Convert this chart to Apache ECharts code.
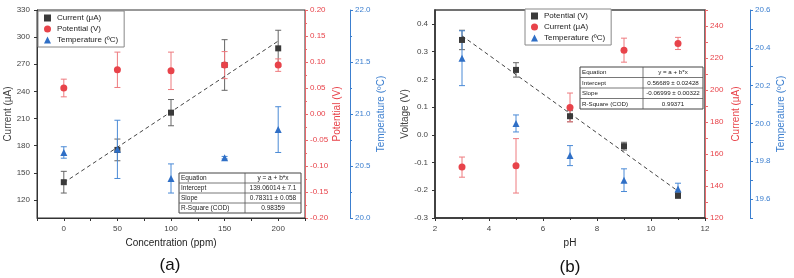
<!DOCTYPE html>
<html>
<head>
<meta charset="utf-8">
<script src="https://cdn.jsdelivr.net/npm/echarts@6/dist/echarts.min.js"></script>
<style>
  html, body { margin: 0; padding: 0; background: #fff; }
  #chart { width: 794px; height: 278px; }
</style>
</head>
<body>
<div id="chart"></div>
<script>
// ---- panel (a): response vs concentration ----
var concPpm = [0, 50, 100, 150, 200]
var currentA = [139.6, 175.3, 216.5, 269.2, 287.6]
var currentAErr = [12, 12, 14.5, 28, 20]
var potentialA = [0.050, 0.085, 0.083, 0.094, 0.094]
var potentialAErr = [0.017, 0.034, 0.036, 0.026, 0.012]
var tempA = [20.63, 20.66, 20.38, 20.58, 20.85]
var tempAErr = [0.055, 0.28, 0.14, 0.012, 0.22]
var fitInterceptA = 139.06014
var fitSlopeA = 0.78311
var currentTicksA = [120, 150, 180, 210, 240, 270, 300, 330]
var concTicks = [0, 50, 100, 150, 200]
var tableA = [
  ['Equation', 'y = a + b*x'],
  ['Intercept', '139.06014 ± 7.1'],
  ['Slope', '0.78311 ± 0.058'],
  ['R-Square (COD)', '0.98359']
]

// ---- panel (b): response vs pH ----
var phValues = [3, 5, 7, 9, 11]
var potentialB = [0.342, 0.234, 0.067, -0.041, -0.219]
var potentialBErr = [0.035, 0.026, 0.02, 0.014, 0.01]
var currentB = [151.8, 152.6, 189.1, 224.9, 229.1]
var currentBErr = [6.3, 17, 9, 7.5, 3.8]
var tempB = [20.345, 20.0, 19.83, 19.70, 19.654]
var tempBErr = [0.145, 0.045, 0.053, 0.06, 0.03]
var fitInterceptB = 0.56689
var fitSlopeB = -0.06999
var voltTicksB = [-0.3, -0.2, -0.1, 0.0, 0.1, 0.2, 0.3, 0.4]
var currentTicksB = [120, 140, 160, 180, 200, 220, 240]
var tempTicksB = [19.6, 19.8, 20.0, 20.2, 20.4, 20.6]
var tableB = [
  ['Equation', 'y = a + b*x'],
  ['Intercept', '0.56689 ± 0.02428'],
  ['Slope', '-0.06999 ± 0.00322'],
  ['R-Square (COD)', '0.99371']
]

var legendText = {
  aCur: 'Current (μA)', aPot: 'Potential (V)', aTemp: 'Temperature (ºC)',
  bPot: 'Potential (V)', bCur: 'Current (μA)', bTemp: 'Temperature (ºC)'
}

var DARK = '#333333'
var RED = '#e8434a'
var RED_AX = '#e8686c'
var BLUE = '#2f6fc6'
var BLUE_AX = '#3c7fcf'
var FONT = '"Liberation Sans", Arial, sans-serif'

function pts (xs, ys) {
  return xs.map(function (x, i) { return [x, ys[i]] })
}
function bars (xs, ys, errs) {
  return xs.map(function (x, i) { return [x, ys[i] - errs[i], ys[i] + errs[i]] })
}
function fitLine (xs, a, b) {
  var x0 = xs[0], x1 = xs[xs.length - 1]
  return [[x0, a + b * x0], [x1, a + b * x1]]
}

function errorBar (params, api) {
  var x = api.value(0)
  var lo = api.coord([x, api.value(1)])
  var hi = api.coord([x, api.value(2)])
  var st = { stroke: api.visual('color'), lineWidth: 1 }
  var c = 3
  return {
    type: 'group',
    children: [
      { type: 'line', shape: { x1: lo[0], y1: lo[1], x2: hi[0], y2: hi[1] }, style: st },
      { type: 'line', shape: { x1: lo[0] - c, y1: lo[1], x2: lo[0] + c, y2: lo[1] }, style: st },
      { type: 'line', shape: { x1: hi[0] - c, y1: hi[1], x2: hi[0] + c, y2: hi[1] }, style: st }
    ]
  }
}

function errSeries (g, yi, data, color) {
  return {
    type: 'custom', xAxisIndex: g, yAxisIndex: yi, renderItem: errorBar,
    itemStyle: { color: color }, encode: { x: 0, y: [1, 2] }, data: data, z: 2, silent: true
  }
}
function dotSeries (name, g, yi, data, symbol, size, color) {
  return {
    name: name, type: 'scatter', xAxisIndex: g, yAxisIndex: yi, data: data,
    symbol: symbol, symbolSize: size, itemStyle: { color: color, opacity: 1 }, z: 4
  }
}

function yAxis (grid, pos, offset, color, labelColor, extra) {
  var ax = {
    type: 'value', gridIndex: grid, position: pos, offset: offset,
    splitLine: { show: false },
    axisLine: { show: true, onZero: false, lineStyle: { color: color, width: 1 } },
    axisTick: { show: true, length: 3, lineStyle: { color: color } },
    axisLabel: { color: labelColor, fontSize: 8, margin: 5, fontFamily: FONT },
    nameLocation: 'middle', nameRotate: 90,
    nameTextStyle: { color: labelColor, fontSize: 10, fontFamily: FONT }
  }
  return echarts.util.merge(ax, extra, true)
}

function table (x, y, w1, w2, rh, fs, rows) {
  var kids = [{
    type: 'rect', shape: { x: 0, y: 0, width: w1 + w2, height: rh * rows.length },
    style: { fill: '#fff', stroke: '#444', lineWidth: 1 }
  }, {
    type: 'line', shape: { x1: w1, y1: 0, x2: w1, y2: rh * rows.length },
    style: { stroke: '#555', lineWidth: 0.8 }
  }]
  rows.forEach(function (r, i) {
    if (i > 0) {
      kids.push({ type: 'line', shape: { x1: 0, y1: i * rh, x2: w1 + w2, y2: i * rh },
        style: { stroke: '#555', lineWidth: 0.8 } })
    }
    kids.push({ type: 'text', x: 2, y: i * rh + rh / 2 + 0.5,
      style: { text: r[0], fontSize: fs, fontFamily: FONT, fill: '#222', verticalAlign: 'middle' } })
    kids.push({ type: 'text', x: w1 + w2 / 2, y: i * rh + rh / 2 + 0.5,
      style: { text: r[1], fontSize: fs, fontFamily: FONT, fill: '#222', align: 'center', verticalAlign: 'middle' } })
  })
  return { type: 'group', x: x, y: y, z: 100, children: kids }
}

var legendBase = {
  orient: 'vertical', itemWidth: 7, itemHeight: 7, itemGap: 3,
  padding: [3, 6, 3, 6], borderColor: '#888', borderWidth: 1, backgroundColor: '#fff',
  selectedMode: false, itemStyle: { borderWidth: 0 },
  formatter: function (n) { return legendText[n] },
  textStyle: { fontSize: 8, color: '#222', fontFamily: FONT, padding: [0, 0, 0, 1] }
}

var option = {
  animation: false,
  textStyle: { fontFamily: FONT },
  grid: [
    { left: 37, top: 10, width: 268, height: 208, show: true, borderColor: '#333', borderWidth: 1,
      backgroundColor: 'transparent', outerBoundsMode: 'none' },
    { left: 435, top: 10, width: 270, height: 208, show: true, borderColor: '#444', borderWidth: 1.5,
      backgroundColor: 'transparent', outerBoundsMode: 'none' }
  ],
  legend: [
    echarts.util.merge({ data: ['aCur', 'aPot', 'aTemp'], left: 38, top: 11 }, legendBase),
    echarts.util.merge({ data: ['bPot', 'bCur', 'bTemp'], left: 525, top: 9 }, legendBase)
  ],
  xAxis: [
    {
      type: 'value', gridIndex: 0, min: -25, max: 225, interval: 25,
      splitLine: { show: false },
      axisLine: { onZero: false, lineStyle: { color: DARK } },
      axisTick: { length: 3, lineStyle: { color: DARK } },
      axisLabel: { customValues: concTicks, color: '#444', fontSize: 8, margin: 7 },
      name: 'Concentration (ppm)', nameLocation: 'middle', nameGap: 20,
      nameTextStyle: { color: '#222', fontSize: 10 }
    },
    {
      type: 'value', gridIndex: 1, min: 2, max: 12, interval: 2,
      splitLine: { show: false },
      axisLine: { onZero: false, lineStyle: { color: DARK, width: 1.5 } },
      axisTick: { length: 3, lineStyle: { color: DARK } },
      minorTick: { show: true, splitNumber: 2, length: 2, lineStyle: { color: DARK } },
      axisLabel: { color: '#444', fontSize: 8, margin: 7 },
      name: 'pH', nameLocation: 'middle', nameGap: 20,
      nameTextStyle: { color: '#222', fontSize: 10 }
    }
  ],
  yAxis: [
    yAxis(0, 'left', 0, DARK, '#444', {
      min: 100, max: 330, name: 'Current (μA)', nameGap: 21,
      axisLabel: { customValues: currentTicksA, margin: 7 },
      axisTick: { customValues: currentTicksA }
    }),
    yAxis(0, 'right', 0, RED_AX, RED, {
      min: -0.2, max: 0.2, interval: 0.05, name: 'Potential (V)', nameGap: 25,
      minorTick: { show: true, splitNumber: 2, length: 2, lineStyle: { color: RED_AX } },
      axisLabel: { formatter: function (v) { return v.toFixed(2) } }
    }),
    yAxis(0, 'right', 45, BLUE_AX, BLUE_AX, {
      min: 20, max: 22, interval: 0.5, name: 'Temperature (ºC)', nameGap: 26,
      minorTick: { show: true, splitNumber: 2, length: 2, lineStyle: { color: BLUE_AX } },
      axisLabel: { formatter: function (v) { return v.toFixed(1) } }
    }),
    yAxis(1, 'left', 0, DARK, '#444', {
      min: -0.3, max: 0.45, name: 'Voltage (V)', nameGap: 21,
      axisLine: { lineStyle: { width: 1.5 } },
      axisLabel: { customValues: voltTicksB, margin: 7, formatter: function (v) { return v.toFixed(1) } },
      axisTick: { customValues: voltTicksB }
    }),
    yAxis(1, 'right', 0, RED_AX, RED, {
      min: 120, max: 250, interval: 10, name: 'Current (μA)', nameGap: 26,
      axisLabel: { customValues: currentTicksB }
    }),
    yAxis(1, 'right', 45, BLUE_AX, BLUE_AX, {
      min: 19.5, max: 20.6, interval: 0.1, name: 'Temperature (ºC)', nameGap: 26,
      axisLabel: { customValues: tempTicksB, formatter: function (v) { return v.toFixed(1) } }
    })
  ],
  series: [
    // panel (a)
    { type: 'line', xAxisIndex: 0, yAxisIndex: 0, data: fitLine(concPpm, fitInterceptA, fitSlopeA),
      symbol: 'none', lineStyle: { color: '#444', width: 1, type: [4, 3] }, z: 3, silent: true },
    errSeries(0, 0, bars(concPpm, currentA, currentAErr), '#666'),
    errSeries(0, 1, bars(concPpm, potentialA, potentialAErr), '#ee7a7e'),
    errSeries(0, 2, bars(concPpm, tempA, tempAErr), '#4a8ad6'),
    dotSeries('aCur', 0, 0, pts(concPpm, currentA), 'rect', 6, '#3a3a3a'),
    dotSeries('aPot', 0, 1, pts(concPpm, potentialA), 'circle', 7, RED),
    dotSeries('aTemp', 0, 2, pts(concPpm, tempA), 'triangle', 7, BLUE),
    // panel (b)
    { type: 'line', xAxisIndex: 1, yAxisIndex: 3, data: fitLine(phValues, fitInterceptB, fitSlopeB),
      symbol: 'none', lineStyle: { color: '#444', width: 1, type: [4, 3] }, z: 3, silent: true },
    errSeries(1, 3, bars(phValues, potentialB, potentialBErr), '#666'),
    errSeries(1, 4, bars(phValues, currentB, currentBErr), '#ee7a7e'),
    errSeries(1, 5, bars(phValues, tempB, tempBErr), '#4a8ad6'),
    dotSeries('bPot', 1, 3, pts(phValues, potentialB), 'rect', 6, '#3a3a3a'),
    dotSeries('bCur', 1, 4, pts(phValues, currentB), 'circle', 7, RED),
    dotSeries('bTemp', 1, 5, pts(phValues, tempB), 'triangle', 7, BLUE)
  ],
  graphic: [
    table(179, 173, 66, 56, 10, 6.5, tableA),
    table(580, 67, 63, 60, 10.5, 6.2, tableB),
    { type: 'text', x: 170, y: 265, z: 100,
      style: { text: '(a)', fontSize: 17, fontFamily: FONT, fill: '#111', align: 'center', verticalAlign: 'middle' } },
    { type: 'text', x: 570, y: 267, z: 100,
      style: { text: '(b)', fontSize: 17, fontFamily: FONT, fill: '#111', align: 'center', verticalAlign: 'middle' } }
  ]
}

var chart = echarts.init(document.getElementById('chart'), null, { renderer: 'canvas' })
chart.setOption(option)
</script>
</body>
</html>
